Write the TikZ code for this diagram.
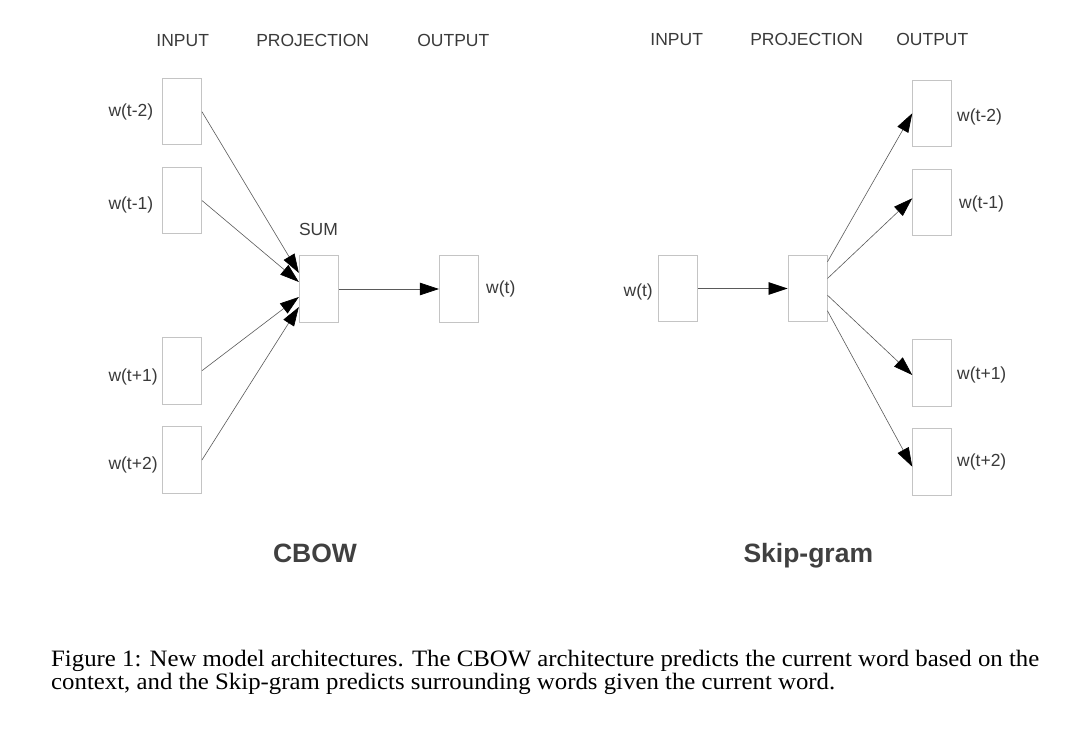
\documentclass[tikz,border=0pt]{standalone}
\usepackage{fontspec}
\setmainfont{Liberation Sans}
\newfontfamily\capfont{Liberation Serif}
\usetikzlibrary{arrows.meta,calc}
\definecolor{boxgray}{HTML}{C4C4C4}
\definecolor{linegray}{HTML}{5A5A5A}
\definecolor{txtgray}{HTML}{3A3A3A}
\definecolor{titlegray}{HTML}{404040}
\begin{document}
\begin{tikzpicture}[x=1pt,y=-1pt,
  wbox/.style={draw=boxgray, line width=0.9pt, fill=white, minimum width=39pt, minimum height=66.5pt, inner sep=0pt},
  lbl/.style={font=\fontsize{17.5}{21}\selectfont, text=txtgray, inner sep=0pt},
  ttl/.style={font=\bfseries\fontsize{26.5}{31}\selectfont, text=titlegray, inner sep=0pt},
  conn/.style={draw=linegray, line width=0.6pt, -{Triangle[length=19pt,width=12.5pt,color=black]}}
]
\useasboundingbox (0,0) rectangle (1074,730);
\fill[white] (0,0) rectangle (1074,730);

% ---------- CBOW ----------
\node[lbl, anchor=base] (cin) at (182.7,46.7) {INPUT};
\node[lbl, anchor=base] (cproj) at (312.7,46.7) {PROJECTION};
\node[lbl, anchor=base] (cout) at (453.3,46.7) {OUTPUT};

\node[wbox] (i1) at (182,111.7) {};
\node[wbox] (i2) at (182,200.5) {};
\node[wbox] (i3) at (182,370.7) {};
\node[wbox] (i4) at (182,460) {};
\node[wbox] (sum) at (318.8,289) {};
\node[wbox] (o) at (458.8,289) {};

\node[lbl, anchor=base west] (li1) at (108.3,116.7) {w(t-2)};
\node[lbl, anchor=base west] (li2) at (108.3,209.3) {w(t-1)};
\node[lbl, anchor=base west] (li3) at (108.3,381.7) {w(t+1)};
\node[lbl, anchor=base west] (li4) at (108.3,469.3) {w(t+2)};
\node[lbl, anchor=base] (lsum) at (318.5,236) {SUM};
\node[lbl, anchor=base west] (lo) at (486,293.3) {w(t)};

\draw[conn] (i1.east) -- ($(sum.west)+(0,-16)$);
\draw[conn] (i2.east) -- ($(sum.west)+(0,-7)$);
\draw[conn] (i3.east) -- ($(sum.west)+(0,8)$);
\draw[conn] (i4.east) -- ($(sum.west)+(0,18)$);
\draw[conn] (sum.east) -- (o.west);

\node[ttl, anchor=base] (tcbow) at (315,562.5) {CBOW};

% ---------- Skip-gram ----------
\node[lbl, anchor=base] (sinh) at (676.7,46) {INPUT};
\node[lbl, anchor=base] (sprojh) at (806.7,46) {PROJECTION};
\node[lbl, anchor=base] (south) at (932.3,46) {OUTPUT};

\node[wbox] (si) at (678.2,288.5) {};
\node[wbox] (sp) at (807.5,288.5) {};
\node[wbox] (so1) at (932.2,113.7) {};
\node[wbox] (so2) at (932.2,202.7) {};
\node[wbox] (so3) at (932.2,373) {};
\node[wbox] (so4) at (932.2,461.7) {};

\node[lbl, anchor=base east] (lsi) at (653,296) {w(t)};
\node[lbl, anchor=base west] (lso1) at (957,121.7) {w(t-2)};
\node[lbl, anchor=base west] (lso2) at (959,208.3) {w(t-1)};
\node[lbl, anchor=base west] (lso3) at (957,379.3) {w(t+1)};
\node[lbl, anchor=base west] (lso4) at (957,466) {w(t+2)};

\draw[conn] (si.east) -- (sp.west);
\draw[conn] ($(sp.east)+(0,-26.7)$) -- ($(so1.west)+(0,-0.4)$);
\draw[conn] ($(sp.east)+(0,-10)$) -- ($(so2.west)+(0,-4.4)$);
\draw[conn] ($(sp.east)+(0,6.7)$) -- ($(so3.west)+(0,2)$);
\draw[conn] ($(sp.east)+(0,22.3)$) -- ($(so4.west)+(0,5)$);

\node[ttl, anchor=base] (tskip) at (808.3,562.7) {Skip-gram};

% ---------- Caption ----------
\node[anchor=base west, inner sep=0pt, text=black] (cap1) at (51,666.7)
  {\resizebox{988pt}{\height}{\capfont\fontsize{23.5}{28}\selectfont Figure 1: New model architectures. The CBOW architecture predicts the current word based on the}};
\node[anchor=base west, inner sep=0pt, text=black] (cap2) at (51,689.3)
  {\resizebox{784pt}{\height}{\capfont\fontsize{23.5}{28}\selectfont context, and the Skip-gram predicts surrounding words given the current word.}};
\end{tikzpicture}
\end{document}
